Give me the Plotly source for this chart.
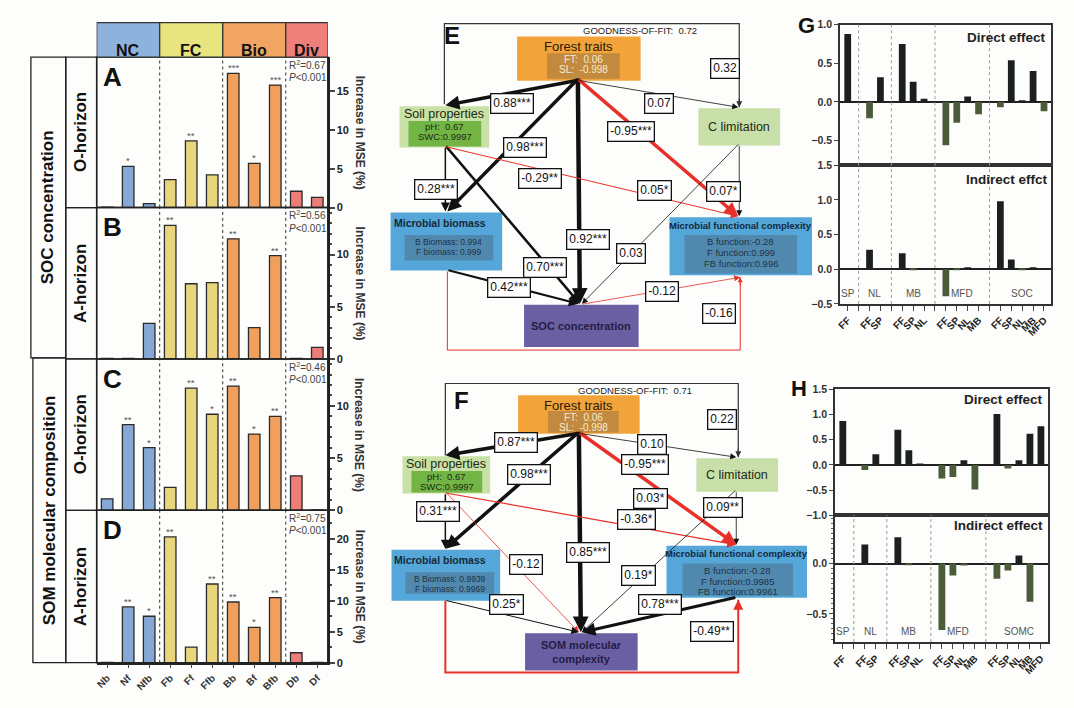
import plotly.graph_objects as go

W, H = 1074, 708
def fx(x): return x / W
def fy(y): return 1 - y / H

FONT = "Liberation Sans, Arial, Helvetica, sans-serif"

# ---------------- Random forest importance (panels A-D) ----------------
rf_vars = ["Nb", "Nf", "Nfb", "Fb", "Ff", "Ffb", "Bb", "Bf", "Bfb", "Db", "Df"]
rf_group_names = ["NC", "FC", "Bio", "Div"]
rf_group_of_var = ["NC", "NC", "NC", "FC", "FC", "FC", "Bio", "Bio", "Bio", "Div", "Div"]
mse_A = [0.05, 5.3, 0.5, 3.6, 8.6, 4.2, 17.3, 5.7, 15.8, 2.1, 1.3]
sig_A = ["", "*", "", "", "**", "", "***", "*", "***", "", ""]
mse_B = [0.05, 0.05, 3.4, 12.8, 7.2, 7.3, 11.5, 3.0, 9.9, 0.05, 1.1]
sig_B = ["", "", "", "**", "", "", "**", "", "**", "", ""]
mse_C = [1.1, 8.2, 6.0, 2.2, 11.7, 9.2, 11.9, 7.3, 9.0, 3.3, 0.05]
sig_C = ["", "**", "*", "", "**", "*", "**", "*", "**", "", ""]
mse_D = [0.05, 9.0, 7.5, 20.3, 2.5, 12.7, 9.8, 5.7, 10.5, 1.6, 0.05]
sig_D = ["", "**", "*", "**", "", "**", "**", "*", "**", "", ""]
r2_values = ["0.67", "0.56", "0.46", "0.75"]
p_value = "0.001"
panel_letters = ["A", "B", "C", "D"]
horizon_labels = ["O-horizon", "A-horizon", "O-horizon", "A-horizon"]
response_labels = ["SOC concentration", "SOM molecular composition"]
mse_title = "Increase in MSE (%)"

# ---------------- Direct / indirect effects (panels G, H) ----------------
effect_cats = ["FF", "", "FF", "SP", "", "FF", "SP", "NL", "", "FF", "SP", "NL", "MB", "",
               "FF", "SP", "NL", "MB", "MFD"]
G_direct = [0.88, None, -0.21, 0.32, None, 0.75, 0.26, 0.04, None, -0.56, -0.27, 0.07, -0.16, None,
            -0.07, 0.54, 0.02, 0.40, -0.12]
G_indirect = [0, None, 0.28, 0, None, 0.23, -0.01, 0, None, -0.39, -0.01, 0.02, 0, None,
              0.98, 0.14, -0.01, 0.02, 0]
H_direct = [0.87, None, -0.10, 0.21, None, 0.70, 0.29, 0.03, None, -0.27, -0.24, 0.09, -0.49, None,
            1.01, -0.07, 0.09, 0.62, 0.77]
H_indirect = [0, None, 0.19, 0, None, 0.26, -0.01, 0, None, -0.66, -0.12, -0.02, 0, None,
              -0.15, -0.07, 0.08, -0.38, 0]
G_groups = ["SP", "NL", "MB", "MFD", "SOC"]
H_groups = ["SP", "NL", "MB", "MFD", "SOMC"]
G_titles = ["Direct effect", "Indirect effct"]
H_titles = ["Direct effect", "Indirect effect"]

# ---------------- SEM diagrams (panels E, F) ----------------
E_fit = "0.72"
F_fit = "0.71"
FT_loadings = ["FT:  0.06", "SL:  -0.998"]
SP_loadings = ["pH:  0.67", "SWC:0.9997"]
E_MB_loadings = ["B Biomass: 0.994", "F biomass: 0.999"]
E_MFC_loadings = ["B function:-0.28", "F function:0.999", "FB function:0.996"]
F_MB_loadings = ["B Biomass: 0.9939", "F biomass: 0.9969"]
F_MFC_loadings = ["B function:-0.28", "F function:0.9985", "FB function:0.9961"]
# path order: FT->SP, FT->MB, FT->Y, FT->MFC, FT->CL, CL..SP frame, SP->MB, SP->Y, SP->MFC,
#             CL->MFC, CL->Y, extra, MB->Y, MFC<->Y, MB..MFC loop
E_coefs = ["0.88***", "0.98***", "0.92***", "-0.95***", "0.07", "0.32", "0.28***", "0.70***",
           "-0.29**", "0.07*", "0.03", "0.05*", "0.42***", "-0.12", "-0.16"]
F_coefs = ["0.87***", "0.98***", "0.85***", "-0.95***", "0.10", "0.22", "0.31***", "-0.12",
           "-0.36*", "0.09**", "0.19*", "0.03*", "0.25*", "0.78***", "-0.49**"]

# ======================================================================
fig = go.Figure()
shapes, annotations, layout_axes = [], [], {}

def rect(x0, y0, x1, y1, fill="rgba(0,0,0,0)", lc="#222", lw=0.0):
    shapes.append(dict(type="rect", xref="paper", yref="paper", x0=fx(x0), x1=fx(x1),
                       y0=fy(y1), y1=fy(y0), fillcolor=fill,
                       line=dict(color=lc, width=lw), layer="above"))

def txt(x, y, s, size=12, color="#111", bold=False, angle=0, xanchor="center", yanchor="middle"):
    annotations.append(dict(x=fx(x), y=fy(y), xref="paper", yref="paper", text=s, showarrow=False,
                            textangle=angle, xanchor=xanchor, yanchor=yanchor,
                            font=dict(size=size, color=color, family=FONT,
                                      weight="bold" if bold else "normal")))

def arrow(tail, head, w, color, size=1.0):
    annotations.append(dict(x=fx(head[0]), y=fy(head[1]), xref="paper", yref="paper",
                            ax=tail[0] - head[0], ay=tail[1] - head[1], axref="pixel", ayref="pixel",
                            showarrow=True, arrowhead=2, arrowsize=size, arrowwidth=w,
                            arrowcolor=color, text="", standoff=0, startstandoff=0))

def line(pts, w, color, dash="solid"):
    path = "M " + " L ".join(f"{fx(x):.5f},{fy(y):.5f}" for x, y in pts)
    shapes.append(dict(type="path", path=path, xref="paper", yref="paper",
                       line=dict(color=color, width=w, dash=dash), layer="above"))

def labelbox(x, y, s, size=12):
    annotations.append(dict(x=fx(x), y=fy(y), xref="paper", yref="paper", text=s, showarrow=False,
                            font=dict(size=size, color="#111", family=FONT),
                            bgcolor="white", bordercolor="#111", borderwidth=1.3, borderpad=2))

# ---------------- Panels A-D ----------------
bar_colors = {"NC": "#86a8d6", "FC": "#e8d57c", "Bio": "#f19f5c", "Div": "#ee7c77"}
head_colors = {"NC": "#8fb2dd", "FC": "#e8e47e", "Bio": "#f2a462", "Div": "#ef7f7b"}
panel_geom = [(52, 205, 19.4, [0, 5, 10, 15], None),
              (205, 359, 14.5, [0, 5, 10], 1),
              (359, 513, 14.5, [0, 5, 10], 1),
              (513, 668, 24.6, [0, 5, 10, 15, 20], 2.5)]
mse_sets = [(mse_A, sig_A), (mse_B, sig_B), (mse_C, sig_C), (mse_D, sig_D)]
PX0, PX1 = 93, 325

for i, ((vals, sigs), (top, bot, ymax, tv, minor)) in enumerate(zip(mse_sets, panel_geom)):
    xa = "x" if i == 0 else f"x{i+1}"
    ya = "y" if i == 0 else f"y{i+1}"
    fig.add_trace(go.Bar(x=rf_vars, y=vals, xaxis=xa, yaxis=ya, width=0.55, showlegend=False,
                         hoverinfo="skip",
                         marker=dict(color=[bar_colors[g] for g in rf_group_of_var],
                                     line=dict(color="#2a2a2a", width=1.3))))
    layout_axes["xaxis" if i == 0 else f"xaxis{i+1}"] = dict(
        domain=[fx(PX0), fx(PX1)], anchor=ya, type="category", categoryorder="array",
        categoryarray=rf_vars, range=[-0.5, 10.5], showgrid=False, zeroline=False,
        showline=(i == 3), linecolor="#222", linewidth=1.5,
        showticklabels=(i == 3), ticks="outside" if i == 3 else "", ticklen=4, tickwidth=1.2,
        tickangle=-45, tickfont=dict(size=10, color="#333", family=FONT, weight="bold"))
    yd = dict(domain=[fy(bot), fy(top)], anchor=xa, side="right", range=[0, ymax], tickvals=tv,
              ticks="outside", ticklen=5, tickwidth=1.5, showline=True, linewidth=1.5,
              linecolor="#222", showgrid=False, zeroline=False,
              tickfont=dict(size=11, color="#222", family=FONT, weight="bold"))
    if minor:
        yd["minor"] = dict(dtick=minor, ticks="outside", ticklen=2, tickcolor="#444")
    layout_axes["yaxis" if i == 0 else f"yaxis{i+1}"] = yd
    # significance stars
    for v, val, s in zip(rf_vars, vals, sigs):
        if s:
            annotations.append(dict(x=v, y=val, xref=xa, yref=ya, text=s, showarrow=False,
                                    yanchor="bottom", yshift=-2,
                                    font=dict(size=9.5, color="#555", family=FONT)))
    # group separators
    for xb in [2.5, 5.5, 8.5]:
        shapes.append(dict(type="line", xref=xa, yref=f"{ya} domain", x0=xb, x1=xb, y0=0, y1=1,
                           line=dict(color="#333", width=1, dash="dot"), layer="above"))
    rect(PX0, top, PX1, bot, lw=1.5)
    rect(62, top, PX0, bot, lw=1.3)
    txt(109, top + 20, panel_letters[i], size=26, bold=True)
    txt(284, top + 8, f"R<sup>2</sup>=" + r2_values[i], size=10, color="#444", xanchor="left", yanchor="middle")
    txt(284, top + 21, f"<i>P</i><{p_value}", size=10, color="#444", xanchor="left")
    txt(77, (top + bot) / 2, horizon_labels[i], size=17, bold=True, angle=-90)
    txt(357, (top + bot) / 2, mse_title, size=12, color="#333", bold=True, angle=90)

# header boxes (positions from category axis of panel A)
start = 0
for g in rf_group_names:
    n = rf_group_of_var.count(g)
    shapes.append(dict(type="rect", xref="x", yref="paper", x0=start - 0.5, x1=start + n - 0.5,
                       y0=fy(52), y1=fy(17), fillcolor=head_colors[g],
                       line=dict(color="#333", width=1.3), layer="above"))
    annotations.append(dict(x=start + (n - 1) / 2, y=fy(34.5), xref="x", yref="paper", text=g,
                            showarrow=False, font=dict(size=16, color="#111", family=FONT, weight="bold")))
    start += n

rect(27, 52, 62, 358, lw=1.3)
rect(29, 358, 62, 668, lw=1.3)
txt(44, 205, response_labels[0], size=17, bold=True, angle=-90)
txt(45, 513, response_labels[1], size=17, bold=True, angle=-90)

# ---------------- SEM diagrams ----------------
RED, BLK = "#e8302a", "#111111"

def sem(nodes, edges, coefs, fit, fit_pos, letter_pos, letter, mb_load, mfc_load, resp_text):
    ft, sp, cl, mb, mfc, resp = nodes
    # boxes
    rect(*ft["box"], fill="#f2a43a"); rect(*ft["inner"], fill="#c18a3f")
    rect(*sp["box"], fill="#c9e0a6"); rect(*sp["inner"], fill="#72b545")
    rect(*cl["box"], fill="#c9dfaa")
    rect(*mb["box"], fill="#55a7d9"); rect(*mb["inner"], fill="#5189ae")
    rect(*mfc["box"], fill="#55a7d9"); rect(*mfc["inner"], fill="#5189ae")
    rect(*resp["box"], fill="#6b5fa3")
    # node texts
    b = ft["box"]; ib = ft["inner"]
    txt((b[0] + b[2]) / 2, b[1] + 10, "Forest traits", size=13, color="#2a1a08")
    txt((ib[0] + ib[2]) / 2, ib[1] + 6.5, FT_loadings[0], size=10, color="#f6ead2")
    txt((ib[0] + ib[2]) / 2, ib[1] + 17, FT_loadings[1], size=10, color="#f6ead2")
    b = sp["box"]; ib = sp["inner"]
    txt((b[0] + b[2]) / 2, b[1] + 8, "Soil properties", size=12.5, color="#1d2a12")
    txt((ib[0] + ib[2]) / 2, ib[1] + 6, SP_loadings[0], size=9.5, color="#1d2a12")
    txt((ib[0] + ib[2]) / 2, ib[1] + 16, SP_loadings[1], size=9.5, color="#1d2a12")
    b = cl["box"]
    txt((b[0] + b[2]) / 2, (b[1] + b[3]) / 2, "C limitation", size=12.5, color="#1d2a12")
    b = mb["box"]; ib = mb["inner"]
    txt((b[0] + b[2]) / 2 - 6, b[1] + 11, "Microbial biomass", size=10.5, bold=True, color="#14283a")
    txt((ib[0] + ib[2]) / 2, ib[1] + 7, mb_load[0], size=8.5, color="#1d3346")
    txt((ib[0] + ib[2]) / 2, ib[1] + 17, mb_load[1], size=8.5, color="#1d3346")
    b = mfc["box"]; ib = mfc["inner"]
    txt((b[0] + b[2]) / 2, b[1] + 8, "Microbial functional complexity", size=9.5, bold=True, color="#14283a")
    for k, s in enumerate(mfc_load):
        txt((ib[0] + ib[2]) / 2, ib[1] + 7 + k * 11, s, size=9.5, color="#1d3346")
    b = resp["box"]
    txt((b[0] + b[2]) / 2, (b[1] + b[3]) / 2, resp_text, size=11, bold=True, color="#241d45")
    txt(fit_pos[0], fit_pos[1], "GOODNESS-OF-FIT:  " + fit, size=9.5, color="#222")
    txt(letter_pos[0], letter_pos[1], letter, size=24, bold=True)
    # edges
    for e in edges:
        kind = e["kind"]
        if kind == "arrow":
            arrow(e["pts"][0], e["pts"][1], e["w"], e["color"], e.get("size", 1.0))
        elif kind == "path":
            line(e["pts"], e["w"], e["color"])
            p1, p2 = e["pts"][-2], e["pts"][-1]
            tail = (p2[0], p2[1] + (-10 if p2[1] > p1[1] else 10))
            arrow(tail, p2, max(e["w"], 1.0), e["color"], 1.0)
    for e, c in zip(edges, coefs):
        labelbox(e["lab"][0], e["lab"][1], c, size=12)

E_nodes = [
    dict(box=(515, 31, 639, 76), inner=(545, 48, 618, 74)),
    dict(box=(397, 102, 487, 144), inner=(406, 117, 479, 143)),
    dict(box=(697, 104, 779, 142)),
    dict(box=(388, 210, 500, 269), inner=(402, 233, 491, 259)),
    dict(box=(668, 215, 811, 274), inner=(683, 233, 796, 272)),
    dict(box=(522, 304, 637, 347)),
]
E_edges = [
    dict(kind="arrow", pts=[(576, 76), (443, 101)], w=3.5, color=BLK, size=0.8, lab=(510, 88)),
    dict(kind="arrow", pts=[(576, 76), (445, 209)], w=3.5, color=BLK, size=0.8, lab=(523, 133)),
    dict(kind="arrow", pts=[(576, 76), (578, 303)], w=4.5, color=BLK, size=0.7, lab=(586, 238)),
    dict(kind="arrow", pts=[(576, 76), (737, 214)], w=3.5, color=RED, size=0.8, lab=(629, 117)),
    dict(kind="arrow", pts=[(576, 76), (737, 103)], w=0.8, color=BLK, size=1.5, lab=(657, 89)),
    dict(kind="path", pts=[(442, 100), (442, 18), (738, 18), (738, 103)], w=1.2, color="#333", lab=(739, 53)),
    dict(kind="arrow", pts=[(443, 144), (443, 209)], w=1.5, color=BLK, size=1.2, lab=(434, 176)),
    dict(kind="arrow", pts=[(443, 144), (578, 303)], w=2.5, color=BLK, size=0.9, lab=(543, 266)),
    dict(kind="arrow", pts=[(443, 144), (737, 214)], w=1.0, color=RED, size=1.5, lab=(538, 165)),
    dict(kind="arrow", pts=[(738, 142), (738, 214)], w=0.8, color=BLK, size=1.5, lab=(740, 178)),
    dict(kind="arrow", pts=[(738, 142), (580, 303)], w=0.8, color=BLK, size=1.5, lab=(629, 252)),
    dict(kind="none", lab=(653, 177)),
    dict(kind="arrow", pts=[(445, 269), (577, 303)], w=2.0, color=BLK, size=1.0, lab=(507, 286)),
    dict(kind="arrow", pts=[(580, 303), (739, 276)], w=0.8, color=RED, size=1.5, lab=(660, 290)),
    dict(kind="path", pts=[(445, 270), (445, 350), (739, 350), (739, 276)], w=1.0, color=RED, lab=(735, 313)),
]
sem(E_nodes, E_edges, E_coefs, E_fit, (638, 25), (450, 30), "E", E_MB_loadings, E_MFC_loadings,
    "SOC concentration")

F_nodes = [
    dict(box=(516, 396, 638, 435), inner=(546, 412, 617, 434)),
    dict(box=(400, 458, 488, 496), inner=(409, 473, 480, 495)),
    dict(box=(695, 460, 777, 494)),
    dict(box=(389, 553, 498, 605), inner=(403, 576, 492, 598)),
    dict(box=(665, 549, 806, 602), inner=(681, 567, 792, 600)),
    dict(box=(523, 638, 636, 676)),
]
F_edges = [
    dict(kind="arrow", pts=[(577, 435), (443, 457)], w=3.5, color=BLK, size=0.8, lab=(514, 444)),
    dict(kind="arrow", pts=[(577, 435), (443, 552)], w=3.5, color=BLK, size=0.8, lab=(527, 487)),
    dict(kind="arrow", pts=[(577, 435), (579, 637)], w=4.5, color=BLK, size=0.7, lab=(586, 567)),
    dict(kind="arrow", pts=[(577, 435), (735, 548)], w=3.5, color=RED, size=0.8, lab=(643, 477)),
    dict(kind="arrow", pts=[(577, 435), (735, 459)], w=0.8, color=BLK, size=1.5, lab=(650, 446)),
    dict(kind="path", pts=[(443, 457), (443, 384), (737, 384), (737, 459)], w=1.2, color="#333", lab=(736, 421)),
    dict(kind="arrow", pts=[(443, 496), (443, 552)], w=1.5, color=BLK, size=1.2, lab=(436, 525)),
    dict(kind="arrow", pts=[(443, 496), (577, 637)], w=0.8, color=RED, size=1.5, lab=(524, 579)),
    dict(kind="arrow", pts=[(443, 496), (735, 548)], w=1.2, color=RED, size=1.5, lab=(635, 533)),
    dict(kind="arrow", pts=[(735, 494), (735, 548)], w=0.8, color=BLK, size=1.5, lab=(742, 521)),
    dict(kind="arrow", pts=[(735, 494), (580, 637)], w=0.8, color=BLK, size=1.5, lab=(637, 590)),
    dict(kind="none", lab=(649, 512)),
    dict(kind="arrow", pts=[(443, 605), (577, 637)], w=1.0, color=BLK, size=1.5, lab=(504, 620)),
    dict(kind="arrow", pts=[(735, 602), (580, 637)], w=3.0, color=BLK, size=0.9, lab=(658, 619)),
    dict(kind="path", pts=[(443, 605), (443, 678), (737, 678), (737, 604)], w=2.0, color=RED, lab=(733, 647)),
]
sem(F_nodes, F_edges, F_coefs, F_fit, (633, 391), (459, 401), "F", F_MB_loadings, F_MFC_loadings,
    "SOM molecular<br>complexity")

# ---------------- Panels G, H ----------------
slots = list(range(len(effect_cats)))
gap_slots = [i for i, c in enumerate(effect_cats) if c == ""]
segments, cur = [], []
for i, c in enumerate(effect_cats):
    if c == "":
        segments.append(cur); cur = []
    else:
        cur.append(i)
segments.append(cur)

def effect_panel(ax_n, vals, xdom, ydom, yrange, tickvals, show_x, seps, title, title_xy,
                 groups=None, minor=None):
    xa, ya = f"x{ax_n}", f"y{ax_n}"
    fig.add_trace(go.Bar(x=slots, y=vals, xaxis=xa, yaxis=ya, width=0.62, showlegend=False,
                         hoverinfo="skip",
                         marker=dict(color=["#1b201f" if (v is not None and v >= 0) else "#4b5c3b"
                                            for v in vals], line=dict(width=0))))
    layout_axes[f"xaxis{ax_n}"] = dict(
        domain=[fx(xdom[0]), fx(xdom[1])], anchor=ya, range=[-0.72, 18.65], showgrid=False,
        zeroline=False, showline=True, mirror=True, linecolor="#333", linewidth=1.5,
        tickvals=slots, ticktext=effect_cats, showticklabels=show_x,
        ticks="outside" if show_x else "", ticklen=5, tickwidth=1.3, tickangle=-45,
        tickfont=dict(size=10, color="#222", family=FONT, weight="bold"))
    yd = dict(domain=[fy(ydom[1]), fy(ydom[0])], anchor=xa, range=yrange, tickvals=tickvals,
              tickformat=".1f", ticks="outside", ticklen=4, tickwidth=1.3, showgrid=False,
              showline=True, mirror=True, linecolor="#333", linewidth=1.5,
              zeroline=True, zerolinecolor="#222", zerolinewidth=1.5,
              tickfont=dict(size=10.5, color="#333", family=FONT, weight="bold"))
    if minor:
        yd["minor"] = dict(dtick=minor, ticks="outside", ticklen=2, tickcolor="#555")
    layout_axes[f"yaxis{ax_n}"] = yd
    if seps:
        for s in gap_slots:
            shapes.append(dict(type="line", xref=xa, yref=f"{ya} domain", x0=s, x1=s, y0=0, y1=1,
                               line=dict(color="#999", width=1, dash="dot"), layer="above"))
    txt(title_xy[0], title_xy[1], title, size=13.5, bold=True, color="#222", xanchor="right")
    if groups:
        for g, seg in zip(groups, segments):
            annotations.append(dict(x=sum(seg) / len(seg), y=0.02, xref=xa, yref=f"{ya} domain",
                                    text=g, showarrow=False, yanchor="bottom",
                                    font=dict(size=10, color="#555", family=FONT)))

effect_panel(5, G_direct, (839, 1051), (19, 162), [-0.82, 1.0], [-0.5, 0, 0.5, 1.0], False, True,
             G_titles[0], (1048, 32))
effect_panel(6, G_indirect, (839, 1051), (162, 303), [-0.5, 1.5], [-0.5, 0, 0.5, 1.0, 1.5], True, True,
             G_titles[1], (1050, 176), groups=G_groups)
effect_panel(7, H_direct, (834, 1048), (390, 518), [-1.0, 1.5], [-1.0, -0.5, 0, 0.5, 1.0, 1.5], False, False,
             H_titles[0], (1045, 400))
effect_panel(8, H_indirect, (834, 1048), (518, 647), [-0.78, 0.48], [-0.5, 0], True, True,
             H_titles[1], (1045, 528), groups=H_groups, minor=0.05)
txt(805, 20, "G", size=22, bold=True)
txt(798, 389, "H", size=22, bold=True)

fig.update_layout(width=W, height=H, margin=dict(l=0, r=0, t=0, b=0),
                  paper_bgcolor="#fdfdfb", plot_bgcolor="rgba(0,0,0,0)",
                  font=dict(family=FONT, color="#222"), bargap=0.3,
                  shapes=shapes, annotations=annotations, showlegend=False, **layout_axes)
fig.write_html("out.html", config={"displayModeBar": False},
               post_script="document.body.style.margin='0px';document.body.style.overflow='hidden';")
